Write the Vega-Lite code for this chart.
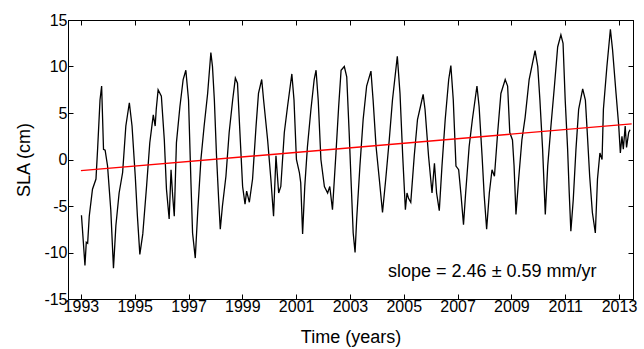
{
  "$schema": "https://vega.github.io/schema/vega-lite/v6.json",
  "width": 565,
  "height": 279,
  "autosize": "none",
  "padding": {"left": 68, "top": 20, "right": 11, "bottom": 50},
  "background": "white",
  "config": {
    "view": {"stroke": "#000", "strokeWidth": 1},
    "font": "Liberation Sans",
    "axis": {
      "domainColor": "#000",
      "tickColor": "#000",
      "labelColor": "#000",
      "titleColor": "#000",
      "labelFont": "Liberation Sans",
      "titleFont": "Liberation Sans",
      "labelFontSize": 16,
      "titleFontSize": 18,
      "titleFontWeight": "normal",
      "grid": false,
      "tickSize": -5
    }
  },
  "datasets": {
    "sla": [
      {"t": 1993.02, "v": -6.0}, {"t": 1993.05, "v": -7.2}, {"t": 1993.15, "v": -11.4}, {"t": 1993.2, "v": -8.9},
      {"t": 1993.25, "v": -9.0}, {"t": 1993.31, "v": -6.1}, {"t": 1993.43, "v": -3.2}, {"t": 1993.56, "v": -2.1},
      {"t": 1993.62, "v": 1.1}, {"t": 1993.71, "v": 6.4}, {"t": 1993.77, "v": 7.9}, {"t": 1993.84, "v": 1.1},
      {"t": 1993.9, "v": 1.0}, {"t": 1993.99, "v": -0.7}, {"t": 1994.11, "v": -5.4}, {"t": 1994.21, "v": -11.7},
      {"t": 1994.3, "v": -7.1}, {"t": 1994.42, "v": -3.6}, {"t": 1994.55, "v": -1.4}, {"t": 1994.67, "v": 3.6},
      {"t": 1994.8, "v": 6.1}, {"t": 1994.9, "v": 3.6}, {"t": 1995.02, "v": -1.8}, {"t": 1995.1, "v": -6.1},
      {"t": 1995.19, "v": -10.2}, {"t": 1995.3, "v": -8.0}, {"t": 1995.44, "v": -2.9}, {"t": 1995.56, "v": 1.8},
      {"t": 1995.69, "v": 4.8}, {"t": 1995.76, "v": 3.6}, {"t": 1995.8, "v": 5.4}, {"t": 1995.87, "v": 7.5},
      {"t": 1995.99, "v": 6.8}, {"t": 1996.1, "v": 2.1}, {"t": 1996.18, "v": -3.2}, {"t": 1996.28, "v": -6.4},
      {"t": 1996.35, "v": -1.1}, {"t": 1996.41, "v": -3.9}, {"t": 1996.47, "v": -6.1}, {"t": 1996.55, "v": 1.8},
      {"t": 1996.68, "v": 5.7}, {"t": 1996.8, "v": 8.6}, {"t": 1996.9, "v": 9.6}, {"t": 1997.0, "v": 6.4},
      {"t": 1997.09, "v": -2.5}, {"t": 1997.15, "v": -7.9}, {"t": 1997.25, "v": -10.6}, {"t": 1997.34, "v": -5.7},
      {"t": 1997.46, "v": 0.0}, {"t": 1997.58, "v": 3.6}, {"t": 1997.71, "v": 7.1}, {"t": 1997.83, "v": 11.5},
      {"t": 1997.89, "v": 10.0}, {"t": 1997.96, "v": 6.4}, {"t": 1998.04, "v": 0.4}, {"t": 1998.12, "v": -4.3},
      {"t": 1998.18, "v": -7.5}, {"t": 1998.26, "v": -5.0}, {"t": 1998.39, "v": -1.8}, {"t": 1998.51, "v": 2.9},
      {"t": 1998.64, "v": 6.4}, {"t": 1998.74, "v": 8.75}, {"t": 1998.82, "v": 8.2}, {"t": 1998.91, "v": 2.9},
      {"t": 1999.01, "v": -2.9}, {"t": 1999.1, "v": -4.8}, {"t": 1999.16, "v": -3.4}, {"t": 1999.26, "v": -4.6},
      {"t": 1999.38, "v": -2.1}, {"t": 1999.51, "v": 3.6}, {"t": 1999.6, "v": 7.1}, {"t": 1999.72, "v": 8.6},
      {"t": 1999.79, "v": 6.4}, {"t": 1999.94, "v": 2.1}, {"t": 2000.06, "v": -2.1}, {"t": 2000.16, "v": -6.1},
      {"t": 2000.25, "v": 0.4}, {"t": 2000.35, "v": -3.6}, {"t": 2000.43, "v": -2.9}, {"t": 2000.56, "v": 2.9},
      {"t": 2000.68, "v": 5.7}, {"t": 2000.84, "v": 9.2}, {"t": 2000.92, "v": 6.4}, {"t": 2001.01, "v": 0.0},
      {"t": 2001.12, "v": -1.4}, {"t": 2001.17, "v": -2.5}, {"t": 2001.24, "v": -8.0}, {"t": 2001.32, "v": -2.9},
      {"t": 2001.42, "v": 1.4}, {"t": 2001.55, "v": 5.4}, {"t": 2001.67, "v": 8.6}, {"t": 2001.74, "v": 9.6},
      {"t": 2001.82, "v": 6.4}, {"t": 2001.92, "v": 0.0}, {"t": 2002.05, "v": -2.9}, {"t": 2002.17, "v": -3.6},
      {"t": 2002.25, "v": -2.9}, {"t": 2002.35, "v": -5.4}, {"t": 2002.48, "v": 0.7}, {"t": 2002.58, "v": 5.7},
      {"t": 2002.67, "v": 9.6}, {"t": 2002.79, "v": 10.0}, {"t": 2002.88, "v": 8.9}, {"t": 2002.97, "v": 2.9},
      {"t": 2003.05, "v": -2.9}, {"t": 2003.12, "v": -7.9}, {"t": 2003.19, "v": -10.0}, {"t": 2003.25, "v": -6.4},
      {"t": 2003.37, "v": -0.7}, {"t": 2003.49, "v": 4.3}, {"t": 2003.62, "v": 7.9}, {"t": 2003.78, "v": 9.5},
      {"t": 2003.86, "v": 6.4}, {"t": 2003.97, "v": 1.4}, {"t": 2004.09, "v": -2.1}, {"t": 2004.21, "v": -5.7},
      {"t": 2004.33, "v": -2.1}, {"t": 2004.46, "v": 2.1}, {"t": 2004.58, "v": 6.4}, {"t": 2004.76, "v": 11.1},
      {"t": 2004.86, "v": 7.1}, {"t": 2004.96, "v": 0.4}, {"t": 2005.06, "v": -5.4}, {"t": 2005.12, "v": -3.6},
      {"t": 2005.18, "v": -4.2}, {"t": 2005.26, "v": -4.6}, {"t": 2005.39, "v": 0.4}, {"t": 2005.51, "v": 4.3},
      {"t": 2005.62, "v": 5.7}, {"t": 2005.72, "v": 7.0}, {"t": 2005.79, "v": 5.4}, {"t": 2005.92, "v": 0.4},
      {"t": 2006.05, "v": -3.6}, {"t": 2006.14, "v": -0.4}, {"t": 2006.22, "v": -3.6}, {"t": 2006.32, "v": -5.5},
      {"t": 2006.42, "v": -0.7}, {"t": 2006.54, "v": 4.3}, {"t": 2006.67, "v": 8.6}, {"t": 2006.75, "v": 10.1},
      {"t": 2006.84, "v": 6.4}, {"t": 2006.94, "v": -0.7}, {"t": 2007.04, "v": -1.1}, {"t": 2007.13, "v": -3.9},
      {"t": 2007.22, "v": -7.0}, {"t": 2007.3, "v": -3.6}, {"t": 2007.43, "v": 1.4}, {"t": 2007.55, "v": 4.3},
      {"t": 2007.72, "v": 7.9}, {"t": 2007.8, "v": 5.7}, {"t": 2007.91, "v": 0.4}, {"t": 2007.99, "v": -3.9},
      {"t": 2008.08, "v": -7.5}, {"t": 2008.18, "v": -3.6}, {"t": 2008.28, "v": -1.1}, {"t": 2008.37, "v": -1.8},
      {"t": 2008.49, "v": 2.9}, {"t": 2008.61, "v": 7.1}, {"t": 2008.77, "v": 8.6}, {"t": 2008.86, "v": 7.9},
      {"t": 2008.94, "v": 2.9}, {"t": 2009.04, "v": 2.1}, {"t": 2009.1, "v": -0.7}, {"t": 2009.17, "v": -5.9},
      {"t": 2009.27, "v": -2.1}, {"t": 2009.39, "v": 2.1}, {"t": 2009.51, "v": 4.5}, {"t": 2009.66, "v": 8.6},
      {"t": 2009.88, "v": 11.7}, {"t": 2009.98, "v": 10.0}, {"t": 2010.06, "v": 6.4}, {"t": 2010.16, "v": 1.1},
      {"t": 2010.26, "v": -5.9}, {"t": 2010.35, "v": -0.7}, {"t": 2010.47, "v": 3.6}, {"t": 2010.6, "v": 7.9},
      {"t": 2010.72, "v": 12.1}, {"t": 2010.84, "v": 13.4}, {"t": 2010.92, "v": 12.5}, {"t": 2011.0, "v": 6.4},
      {"t": 2011.09, "v": 1.1}, {"t": 2011.15, "v": -3.6}, {"t": 2011.21, "v": -7.7}, {"t": 2011.3, "v": -4.3},
      {"t": 2011.4, "v": 1.1}, {"t": 2011.5, "v": 5.4}, {"t": 2011.65, "v": 7.6}, {"t": 2011.75, "v": 6.4},
      {"t": 2011.82, "v": 2.9}, {"t": 2011.91, "v": -1.8}, {"t": 2012.01, "v": -5.7}, {"t": 2012.12, "v": -7.9},
      {"t": 2012.2, "v": -2.1}, {"t": 2012.29, "v": 0.7}, {"t": 2012.37, "v": 0.0}, {"t": 2012.42, "v": 5.4},
      {"t": 2012.55, "v": 10.0}, {"t": 2012.68, "v": 14.0}, {"t": 2012.76, "v": 11.8}, {"t": 2012.89, "v": 7.1},
      {"t": 2012.99, "v": 3.6}, {"t": 2013.05, "v": 0.7}, {"t": 2013.11, "v": 2.5}, {"t": 2013.16, "v": 1.1},
      {"t": 2013.23, "v": 3.6}, {"t": 2013.28, "v": 1.3}, {"t": 2013.36, "v": 2.9}, {"t": 2013.41, "v": 3.2}
    ],
    "trend": [
      {"t": 1993.0, "v": -1.2},
      {"t": 2013.47, "v": 3.83}
    ],
    "note": [
      {"t": 2008.29, "v": -12.05, "label": "slope = 2.46 ± 0.59 mm/yr"}
    ]
  },
  "layer": [
    {
      "data": {"name": "sla"},
      "mark": {"type": "line", "color": "#000", "strokeWidth": 1.3, "clip": true},
      "encoding": {
        "x": {
          "field": "t", "type": "quantitative",
          "scale": {"domain": [1992.52, 2013.52], "nice": false, "zero": false},
          "axis": {
            "orient": "bottom",
            "values": [1993, 1995, 1997, 1999, 2001, 2003, 2005, 2007, 2009, 2011, 2013],
            "format": "d",
            "title": "Time (years)",
            "labelPadding": 4,
            "titlePadding": 14
          }
        },
        "y": {
          "field": "v", "type": "quantitative",
          "scale": {"domain": [-15, 15], "nice": false, "zero": false},
          "axis": {
            "orient": "left",
            "values": [-15, -10, -5, 0, 5, 10, 15],
            "labelExpr": "datum.value < 0 ? '-' + abs(datum.value) : '' + datum.value",
            "title": "SLA (cm)",
            "labelPadding": 6,
            "titlePadding": 10
          }
        }
      }
    },
    {
      "data": {"name": "trend"},
      "mark": {"type": "line", "color": "#ff0000", "strokeWidth": 1.4},
      "encoding": {
        "x": {
          "field": "t", "type": "quantitative",
          "axis": {
            "orient": "top",
            "values": [1993, 1995, 1997, 1999, 2001, 2003, 2005, 2007, 2009, 2011, 2013],
            "labels": false,
            "title": null
          }
        },
        "y": {
          "field": "v", "type": "quantitative",
          "axis": {
            "orient": "right",
            "values": [-15, -10, -5, 0, 5, 10, 15],
            "labels": false,
            "title": null
          }
        }
      }
    },
    {
      "data": {"name": "note"},
      "mark": {"type": "text", "fontSize": 18, "font": "Liberation Sans", "color": "#000", "align": "center", "baseline": "middle"},
      "encoding": {
        "x": {"field": "t", "type": "quantitative", "axis": null},
        "y": {"field": "v", "type": "quantitative", "axis": null},
        "text": {"field": "label"}
      }
    }
  ],
  "resolve": {"axis": {"x": "independent", "y": "independent"}}
}
